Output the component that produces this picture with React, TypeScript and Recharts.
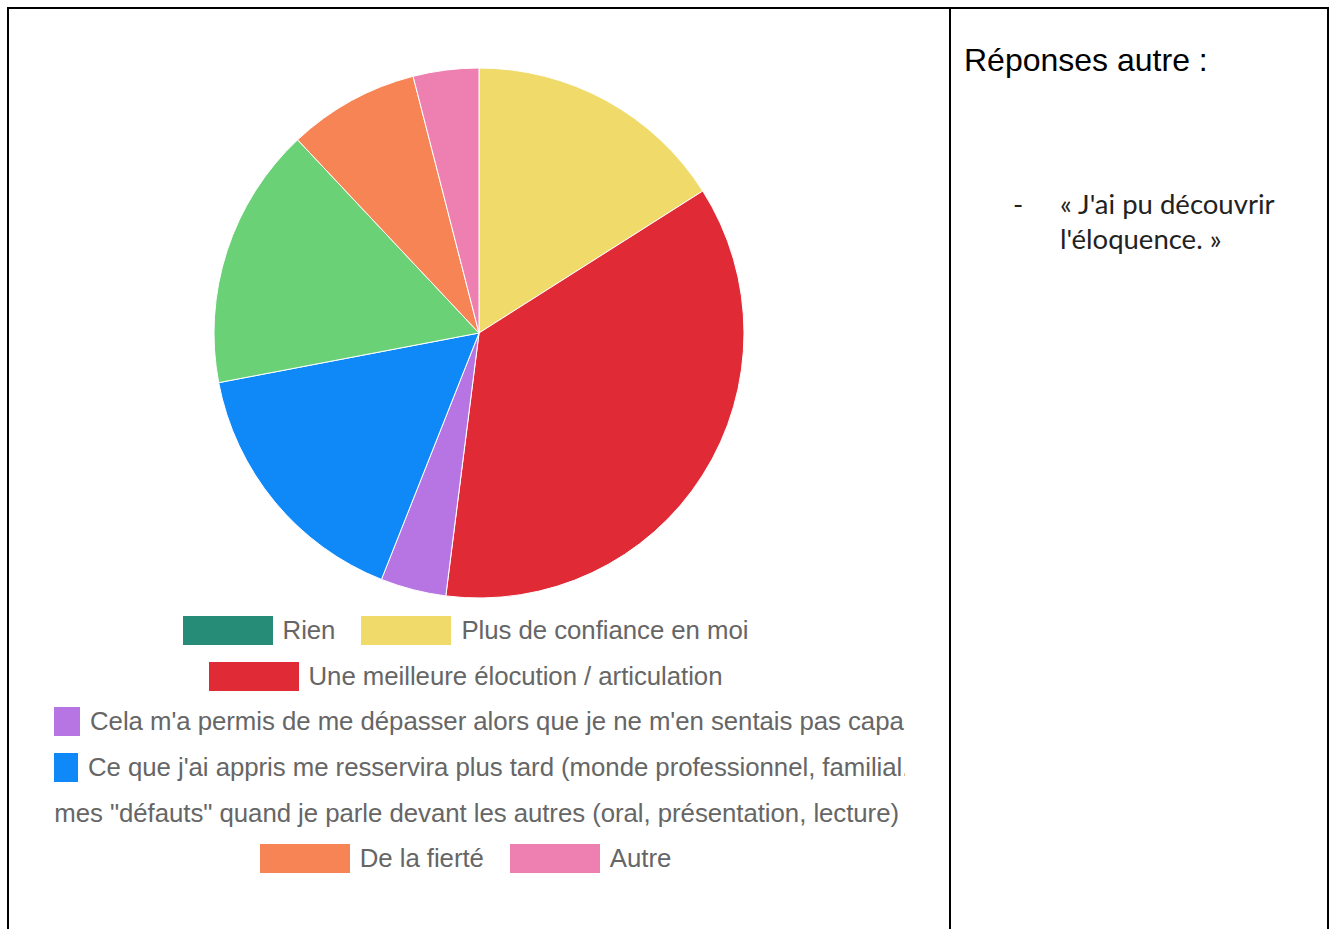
import React from 'react';
import { PieChart, Pie, Cell, Legend } from 'recharts';

const categories = [
  'Rien',
  'Plus de confiance en moi',
  'Une meilleure élocution / articulation',
  "Cela m'a permis de me dépasser alors que je ne m'en sentais pas capable",
  "Ce que j'ai appris me resservira plus tard (monde professionnel, familial...)",
  'J\'ai appris à mieux gérer mes "défauts" quand je parle devant les autres (oral, présentation, lecture)',
  'De la fierté',
  'Autre',
];
const counts = [0, 4, 9, 1, 4, 4, 2, 1];
const colors = ['#268c78', '#f0db6a', '#e02b37', '#b675e3', '#0f89f8', '#6ad177', '#f78455', '#ee80b1'];

const otherAnswers = ["« J'ai pu découvrir l'éloquence. »"];

const data = categories.map((name, i) => ({ name, value: counts[i] }));

// how the legend wraps in the original (long labels overflow and get cut)
const legendRows: { items: number[]; align: 'center' | 'start' | 'end'; shift?: number }[] = [
  { items: [0, 1], align: 'center' },
  { items: [2], align: 'center' },
  { items: [3], align: 'start', shift: -64 },
  { items: [4], align: 'start', shift: -66 },
  { items: [5], align: 'end' },
  { items: [6, 7], align: 'center' },
];

const LegendItem = ({ i, last }: { i: number; last: boolean }) => (
  <div style={{ display: 'flex', alignItems: 'center', flexShrink: 0, marginRight: last ? 0 : 26 }}>
    <div style={{ width: 90, height: 29, background: colors[i], flexShrink: 0 }} />
    <span style={{ marginLeft: 10, whiteSpace: 'nowrap' }}>{categories[i]}</span>
  </div>
);

const renderLegend = () => (
  <div
    style={{
      width: 851,
      fontFamily: '"Liberation Sans", Arial, sans-serif',
      fontSize: 25.8,
      letterSpacing: -0.05,
      color: '#666',
    }}
  >
    {legendRows.map((row, r) => (
      <div key={r} style={{ height: 45.6, overflow: 'hidden', position: 'relative' }}>
        <div
          style={{
            display: 'flex',
            alignItems: 'center',
            height: '100%',
            justifyContent: row.align === 'center' ? 'center' : row.align === 'start' ? 'flex-start' : 'flex-end',
            marginLeft: row.shift ?? 0,
            paddingRight: row.align === 'center' ? 28 : row.align === 'end' ? 6 : 0,
          }}
        >
          {row.items.map((i, k) => (
            <LegendItem key={i} i={i} last={k === row.items.length - 1} />
          ))}
        </div>
      </div>
    ))}
  </div>
);

export default function App() {
  return (
    <div style={{ position: 'absolute', left: 0, top: 0, width: 1333, height: 929, overflow: 'hidden', background: '#fff' }}>
      {/* table borders */}
      <div style={{ position: 'absolute', left: 7, top: 7, width: 1318, height: 960, border: '2px solid #000' }} />
      <div style={{ position: 'absolute', left: 949, top: 7, width: 2, height: 960, background: '#000' }} />

      <div style={{ position: 'absolute', left: 0, top: 0 }}>
        <PieChart width={948} height={920}>
          <Pie
            data={data}
            dataKey="value"
            nameKey="name"
            cx={474}
            cy={328}
            outerRadius={265}
            startAngle={90}
            endAngle={-270}
            stroke="#fff"
            strokeWidth={1}
            isAnimationActive={false}
          >
            {data.map((d, i) => (
              <Cell key={d.name} fill={colors[i]} />
            ))}
          </Pie>
          <Legend content={renderLegend} wrapperStyle={{ left: 54, top: 608, width: 851, bottom: 'auto' }} />
        </PieChart>
      </div>

      <div
        style={{
          position: 'absolute',
          left: 964,
          top: 42,
          fontFamily: '"Liberation Sans", Arial, sans-serif',
          fontSize: 32,
          color: '#000',
        }}
      >
        Réponses autre :
      </div>
      {otherAnswers.map((t) => (
        <div key={t} style={{ position: 'absolute', left: 1012, top: 186, fontFamily: 'Lato, sans-serif', fontSize: 27.5, color: '#222', lineHeight: '35px' }}>
          <span style={{ position: 'absolute', left: 1 }}>-</span>
          <div style={{ marginLeft: 48, width: 250 }}>{t}</div>
        </div>
      ))}
    </div>
  );
}
